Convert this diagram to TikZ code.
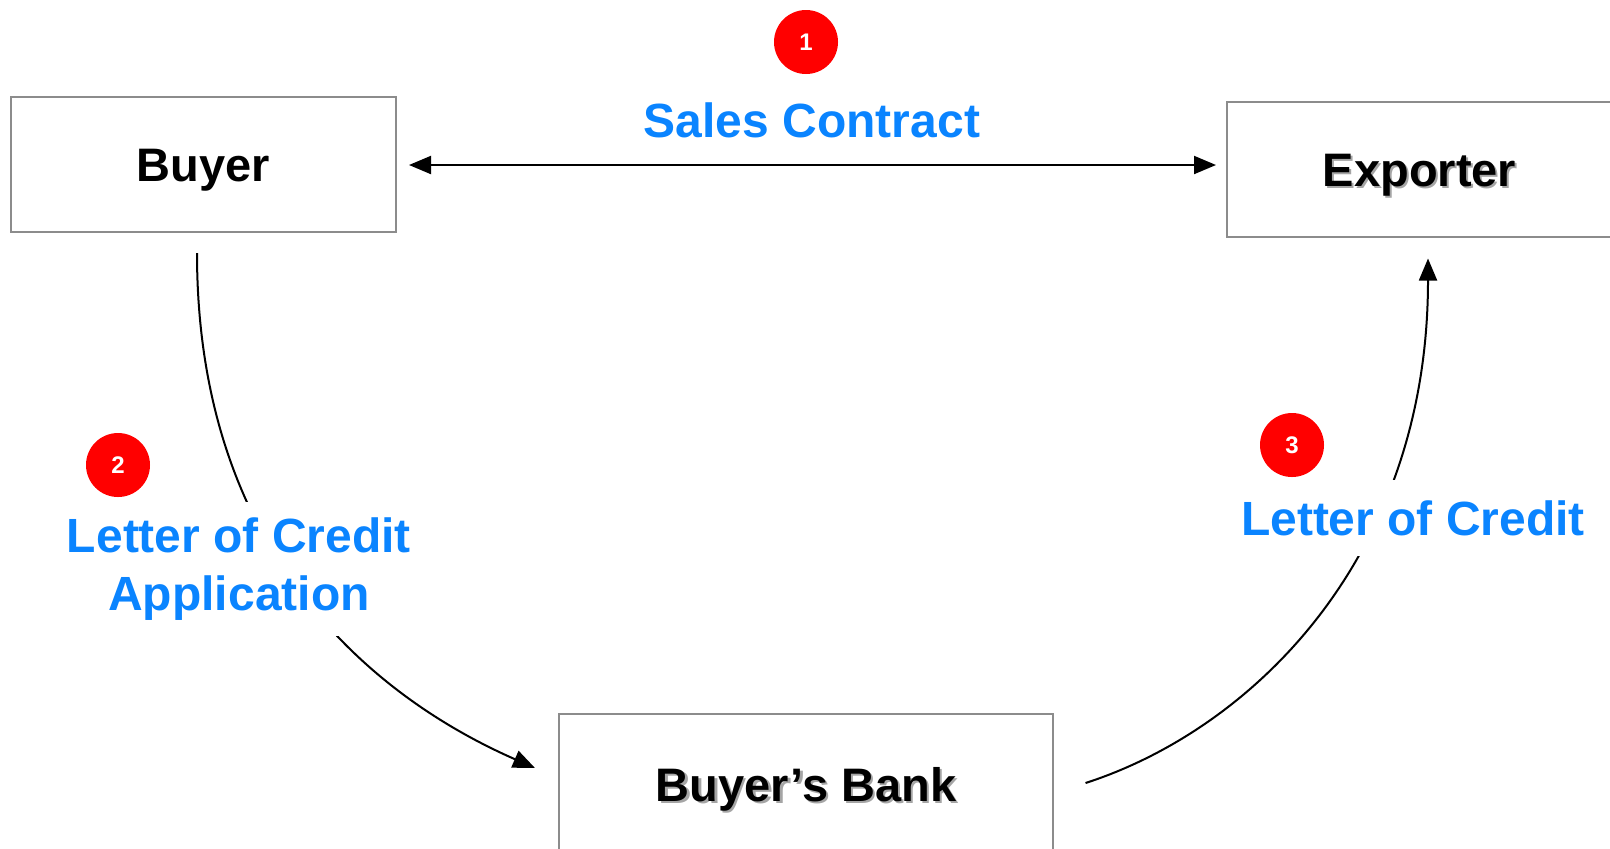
\documentclass[tikz,border=0pt]{standalone}
\usepackage{fontspec}
\setmainfont{Liberation Sans}
\usetikzlibrary{arrows.meta,calc}
\definecolor{labelblue}{RGB}{10,132,255}
\definecolor{badgered}{RGB}{255,0,0}
\definecolor{boxgray}{RGB}{140,140,140}
\definecolor{shadowgray}{RGB}{165,165,165}
\begin{document}
\begin{tikzpicture}[x=0.5pt,y=-0.5pt,
  party/.style={draw=boxgray,line width=1pt,inner sep=0pt,
    minimum width=192.5pt,minimum height=67.5pt,
    text height=22pt,text depth=5pt,
    font=\fontsize{23.5}{28}\selectfont\bfseries},
  shadowtext/.style={inner sep=0pt,text=shadowgray,
    text height=22pt,text depth=5pt,
    font=\fontsize{23.5}{28}\selectfont\bfseries},
  flow/.style={line width=1pt,-{Triangle[length=11pt,width=9pt]}},
  steplabel/.style={text=labelblue,fill=white,inner sep=6pt,align=center,
    font=\fontsize{24}{29}\selectfont\bfseries},
  badge/.style={circle,fill=badgered,text=white,inner sep=0pt,
    minimum size=32pt,font=\fontsize{12}{14}\selectfont\bfseries}]
\useasboundingbox (0,0) rectangle (1610,848);
\clip (0,0) rectangle (1610,848);

% the three parties
\node[party] (buyer) at (203.5,164.5) {Buyer};
\node[shadowtext] (exporter-shadow) at (1421.5,171.5) {Exporter};
\node[party] (exporter) at (1419.5,169) {Exporter};
\node[shadowtext] (bank-shadow) at (808.5,786.5) {Buyer’s Bank};
\node[party,minimum width=247pt,minimum height=70pt] (bank) at (806,784) {Buyer’s Bank};

% step 1: sales contract between buyer and exporter
\draw[flow,{Triangle[length=11pt,width=9pt]}-{Triangle[length=11pt,width=9pt]}]
  ($(buyer.east)+(12,0.5)$) -- ($(exporter.west)+(-10,-4)$);
\node[steplabel,fill=none] (contract) at (812,120) {Sales Contract};
\node[badge] (n1) at (806,42) {1};

% step 2: buyer applies to its bank
\coordinate (apply-start) at ($(buyer.south)+(-6.5,20)$);
\coordinate (apply-end) at ($(bank.west)+(-23,-16)$);
\draw[flow] (apply-start) .. controls (197,560) and (380,700) .. (apply-end);
\node[steplabel,inner ysep=8pt] (application) at (239,569) {Letter of Credit\\Application};
\node[badge] (n2) at (118,465) {2};

% step 3: bank issues the letter of credit to the exporter
\coordinate (issue-start) at ($(bank.east)+(31.5,-1)$);
\coordinate (issue-end) at ($(exporter.south)+(8.5,21)$);
\draw[flow] (issue-start) .. controls (1250,730) and (1428,560) .. (issue-end);
\node[steplabel,inner ysep=10pt] (credit) at (1413,518) {Letter of Credit};
\node[badge] (n3) at (1292,445) {3};
\end{tikzpicture}
\end{document}
